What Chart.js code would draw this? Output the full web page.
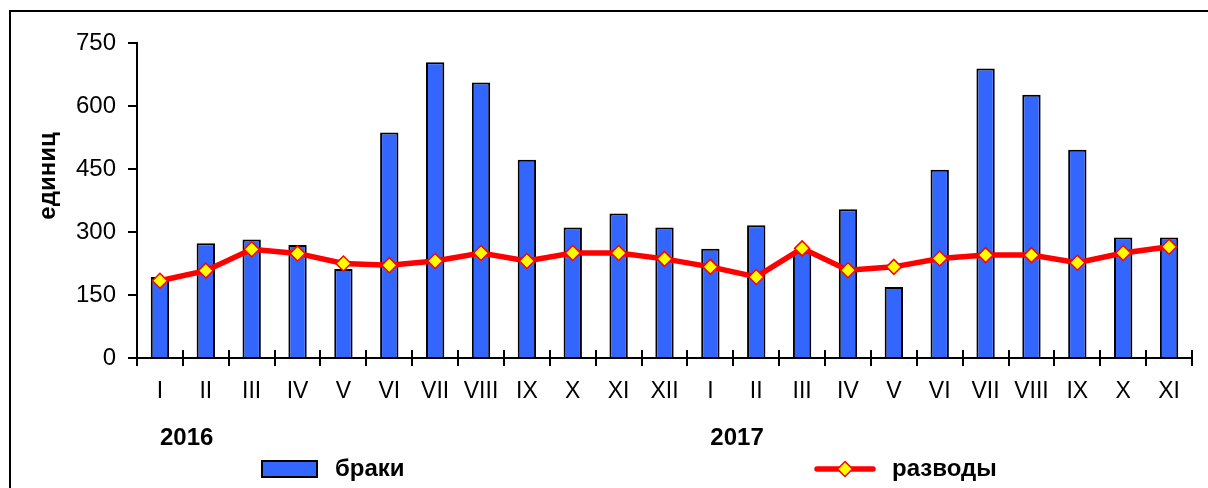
<!DOCTYPE html>
<html>
<head>
<meta charset="utf-8">
<script src="https://cdn.jsdelivr.net/npm/chart.js@4/dist/chart.umd.min.js"></script>
<style>
body { margin: 0; overflow: hidden; background: #fff; }
#wrap { position: relative; width: 1208px; height: 488px; }
#frame { position: absolute; left: 9px; top: 10px; width: 1300px; height: 600px; border: 2px solid #000; box-sizing: border-box; pointer-events: none; }
</style>
</head>
<body>
<div id="wrap">
  <canvas id="chart" width="1208" height="488"></canvas>
  <div id="frame"></div>
</div>
<script>
"use strict";
// data
var months = ["I", "II", "III", "IV", "V", "VI", "VII", "VIII", "IX", "X", "XI", "XII",
              "I", "II", "III", "IV", "V", "VI", "VII", "VIII", "IX", "X", "XI"];
var years = ["2016", "", "", "", "", "", "", "", "", "", "", "",
             "2017", "", "", "", "", "", "", "", "", "", ""];
var marriages = [193, 273, 282, 269, 212, 537, 704, 656, 472, 311, 344, 311,
                 260, 316, 253, 354, 169, 448, 689, 627, 496, 287, 287];
var divorces = [184, 208, 259, 249, 225, 221, 231, 250, 231, 250, 250, 236,
                217, 193, 261, 209, 217, 237, 245, 245, 227, 250, 265];
var yMin = 0, yMax = 750, yStep = 150;
var yTitle = "единиц";

var FONT = '"Liberation Sans", Arial, sans-serif';
Chart.defaults.font.family = FONT;
Chart.defaults.font.size = 22;
Chart.defaults.color = '#000';

// inner tick halves, axis title and legend
var extras = {
  id: 'extras',
  afterDraw: function(chart) {
    var ctx = chart.ctx;
    var xs = chart.scales.x;
    var n = xs.ticks.length;
    ctx.save();
    ctx.strokeStyle = '#000';
    ctx.lineWidth = 2;
    for (var i = 0; i <= n; i++) {
      var px = Math.round(xs.left + i * xs.width / n);
      ctx.beginPath();
      ctx.moveTo(px, xs.top - 8);
      ctx.lineTo(px, xs.top);
      ctx.stroke();
    }

    ctx.fillStyle = '#000';
    ctx.font = 'bold 24px ' + FONT;
    ctx.save();
    ctx.translate(48, 176);
    ctx.rotate(-Math.PI / 2);
    ctx.textAlign = 'center';
    ctx.textBaseline = 'middle';
    ctx.fillText(yTitle, 0, 0);
    ctx.restore();

    var ds = chart.data.datasets;
    var ly = 469;
    // bar sample
    ctx.fillStyle = ds[1].backgroundColor;
    ctx.fillRect(262, 461, 55, 16);
    ctx.strokeStyle = '#000';
    ctx.lineWidth = 2;
    ctx.strokeRect(262, 461, 55, 16);
    ctx.fillStyle = '#000';
    ctx.textAlign = 'left';
    ctx.textBaseline = 'middle';
    ctx.fillText(ds[1].label, 335, ly);
    // line sample
    ctx.strokeStyle = ds[0].borderColor;
    ctx.lineWidth = 5.5;
    ctx.lineCap = 'round';
    ctx.beginPath();
    ctx.moveTo(817, ly);
    ctx.lineTo(873, ly);
    ctx.stroke();
    ctx.beginPath();
    ctx.moveTo(845, ly - 7.5);
    ctx.lineTo(852.5, ly);
    ctx.lineTo(845, ly + 7.5);
    ctx.lineTo(837.5, ly);
    ctx.closePath();
    ctx.fillStyle = ds[0].pointBackgroundColor;
    ctx.fill();
    ctx.lineWidth = 1.5;
    ctx.stroke();
    ctx.fillStyle = '#000';
    ctx.fillText(ds[0].label, 892, ly);
    ctx.restore();
  }
};

var ctx = document.getElementById("chart");
var chart = new Chart(ctx, {
  type: 'bar',
  data: {
    labels: months,
    datasets: [{
      type: 'line',
      label: 'разводы',
      data: divorces,
      borderColor: '#FF0000',
      borderWidth: 5.5,
      tension: 0,
      pointStyle: 'rectRot',
      pointRadius: 7.5,
      pointBackgroundColor: '#FFFF00',
      pointBorderColor: '#FF0000',
      pointBorderWidth: 1.5,
      order: 0
    }, {
      type: 'bar',
      label: 'браки',
      data: marriages,
      backgroundColor: '#3366FF',
      borderColor: '#000',
      borderWidth: 2,
      barPercentage: 0.8,
      categoryPercentage: 0.5,
      order: 1
    }]
  },
  options: {
    responsive: false,
    animation: false,
    layout: { padding: { left: 0, top: 43, right: 16, bottom: 32 } },
    plugins: {
      legend: { display: false },
      tooltip: { enabled: false }
    },
    scales: {
      x: {
        offset: true,
        grid: { display: true, drawOnChartArea: false, drawTicks: true, tickLength: 8, color: '#000', lineWidth: 2, offset: true },
        border: { display: true, color: '#000', width: 2 },
        ticks: { autoSkip: false, maxRotation: 0, padding: 12, font: { size: 23 } },
        afterFit: function(s) { s.height = 58; }
      },
      x2: {
        type: 'category',
        labels: years,
        position: 'bottom',
        offset: true,
        grid: { display: false },
        border: { display: false },
        ticks: { autoSkip: false, maxRotation: 0, align: 'start', padding: 0, font: { size: 24, weight: 'bold' } },
        afterFit: function(s) { s.height = 40; }
      },
      y: {
        min: yMin,
        max: yMax,
        ticks: { stepSize: yStep, padding: 12, font: { size: 24 } },
        grid: { drawOnChartArea: false, drawTicks: true, tickLength: 9, color: '#000', lineWidth: 2 },
        border: { display: true, color: '#000', width: 2 },
        afterFit: function(s) { s.width = 137; }
      }
    }
  },
  plugins: [extras]
});
</script>
</body>
</html>
